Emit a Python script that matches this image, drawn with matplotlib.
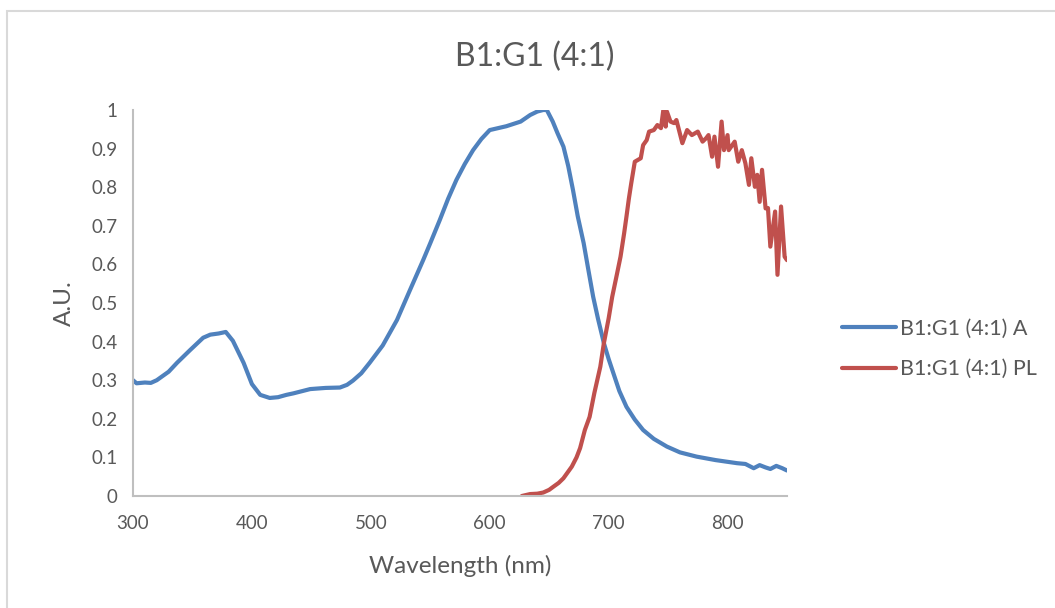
import matplotlib
matplotlib.use("Agg")
from matplotlib import pyplot as plt
from matplotlib.patches import Rectangle

plt.rcParams['font.family'] = ['Lato', 'DejaVu Sans']

# 吸收光谱 (A)
wl_a = [300, 303, 310, 315, 320, 330, 337, 348, 359, 365, 372, 378, 384, 393, 400,
        407, 415, 422, 429, 435, 449, 462, 474, 480, 485, 492, 499, 510, 522, 533,
        544, 550, 558, 565, 572, 579, 586, 593, 600, 607, 614, 626, 634, 640, 645,
        648, 653, 657, 662, 666, 670, 674, 679, 683, 687, 691, 696, 700, 704, 709,
        715, 722, 729, 738, 749, 760, 774, 790, 808, 815, 822, 827, 832, 836, 841,
        846, 850]
abs_a = [0.300, 0.292, 0.294, 0.293, 0.300, 0.322, 0.345, 0.378, 0.410, 0.418, 0.421,
         0.425, 0.402, 0.345, 0.290, 0.262, 0.254, 0.256, 0.262, 0.266, 0.277, 0.280,
         0.281, 0.288, 0.299, 0.318, 0.345, 0.390, 0.456, 0.534, 0.611, 0.655, 0.715,
         0.770, 0.819, 0.860, 0.896, 0.925, 0.948, 0.953, 0.958, 0.970, 0.987, 0.996,
         1.000, 1.000, 0.970, 0.940, 0.905, 0.855, 0.793, 0.725, 0.655, 0.585, 0.516,
         0.460, 0.396, 0.355, 0.318, 0.272, 0.231, 0.198, 0.171, 0.148, 0.128, 0.113,
         0.102, 0.093, 0.085, 0.083, 0.072, 0.080, 0.074, 0.070, 0.078, 0.072, 0.066]

# 荧光光谱 (PL)
wl_pl = [627, 634, 640, 645, 650, 653.5, 658, 662, 669, 673, 676, 680, 684, 688, 693,
         696, 700, 703, 707, 710, 713, 715, 717, 719, 722, 727, 729, 732, 734, 738,
         741, 744, 746, 748, 749, 752, 755, 757, 762, 766, 770, 775, 779, 782, 784,
         787, 789, 792, 795, 797, 800, 801, 806, 809, 812, 815, 818, 820, 823, 825,
         827, 829, 832, 834, 836, 840, 842, 845, 848, 850]
pl = [0.000, 0.005, 0.006, 0.009, 0.016, 0.024, 0.034, 0.046, 0.076, 0.100, 0.124,
      0.171, 0.205, 0.267, 0.335, 0.396, 0.460, 0.516, 0.575, 0.620, 0.680, 0.724,
      0.770, 0.810, 0.866, 0.875, 0.909, 0.922, 0.944, 0.948, 0.961, 0.953, 1.000,
      0.957, 0.996, 0.970, 0.966, 0.974, 0.914, 0.948, 0.935, 0.944, 0.918, 0.927,
      0.935, 0.879, 0.931, 0.853, 0.970, 0.896, 0.935, 0.896, 0.918, 0.866, 0.896,
      0.862, 0.806, 0.875, 0.801, 0.832, 0.762, 0.845, 0.745, 0.746, 0.646, 0.737,
      0.573, 0.750, 0.620, 0.611]

x_ticks = [300, 400, 500, 600, 700, 800]
y_ticks = [0, 0.1, 0.2, 0.3, 0.4, 0.5, 0.6, 0.7, 0.8, 0.9, 1]
y_labels = ['0', '0.1', '0.2', '0.3', '0.4', '0.5', '0.6', '0.7', '0.8', '0.9', '1']

grey = '#595959'

fig = plt.figure(figsize=(10.55, 6.08), dpi=100)
# 图表外框
fig.patches.append(Rectangle((7 / 1055, -0.1), 1.2, 1 - 11 / 608 + 0.1,
                             transform=fig.transFigure, fill=False,
                             edgecolor='#D9D9D9', linewidth=1.5))

ax = fig.add_axes([133 / 1055, 1 - 496 / 608, 654 / 1055, 386 / 608])
ax.plot(wl_a, abs_a, color='#4F81BD', linewidth=3, label='B1:G1 (4:1) A',
        solid_capstyle='round', solid_joinstyle='round')
ax.plot(wl_pl, pl, color='#C0504D', linewidth=3, label='B1:G1 (4:1) PL',
        solid_capstyle='round', solid_joinstyle='round')

ax.set_xlim(300, 850)
ax.set_ylim(0, 1)
ax.set_xticks(x_ticks)
ax.set_yticks(y_ticks)
ax.set_yticklabels(y_labels)
ax.tick_params(length=0, labelsize=13.5, labelcolor=grey, pad=14)
ax.tick_params(axis='y', pad=11)
for s in ['top', 'right']:
    ax.spines[s].set_visible(False)
for s in ['left', 'bottom']:
    ax.spines[s].set_color('#BFBFBF')
    ax.spines[s].set_linewidth(1.5)

ax.set_xlabel('Wavelength (nm)', fontsize=17.5, color=grey, labelpad=16)
ax.set_ylabel('A.U.', fontsize=17.5, color=grey, labelpad=12)
fig.text(535 / 1055, 1 - 57 / 608, 'B1:G1 (4:1)', fontsize=23, color=grey,
         ha='center', va='center')

leg = fig.legend(loc='center left', bbox_to_anchor=(842 / 1055, 1 - 349 / 608),
                 frameon=False, fontsize=15.5, handlelength=2.5, handletextpad=0.2,
                 labelspacing=0.95, borderpad=0, borderaxespad=0)
for t in leg.get_texts():
    t.set_color(grey)

plt.savefig('out.png', dpi=100)
